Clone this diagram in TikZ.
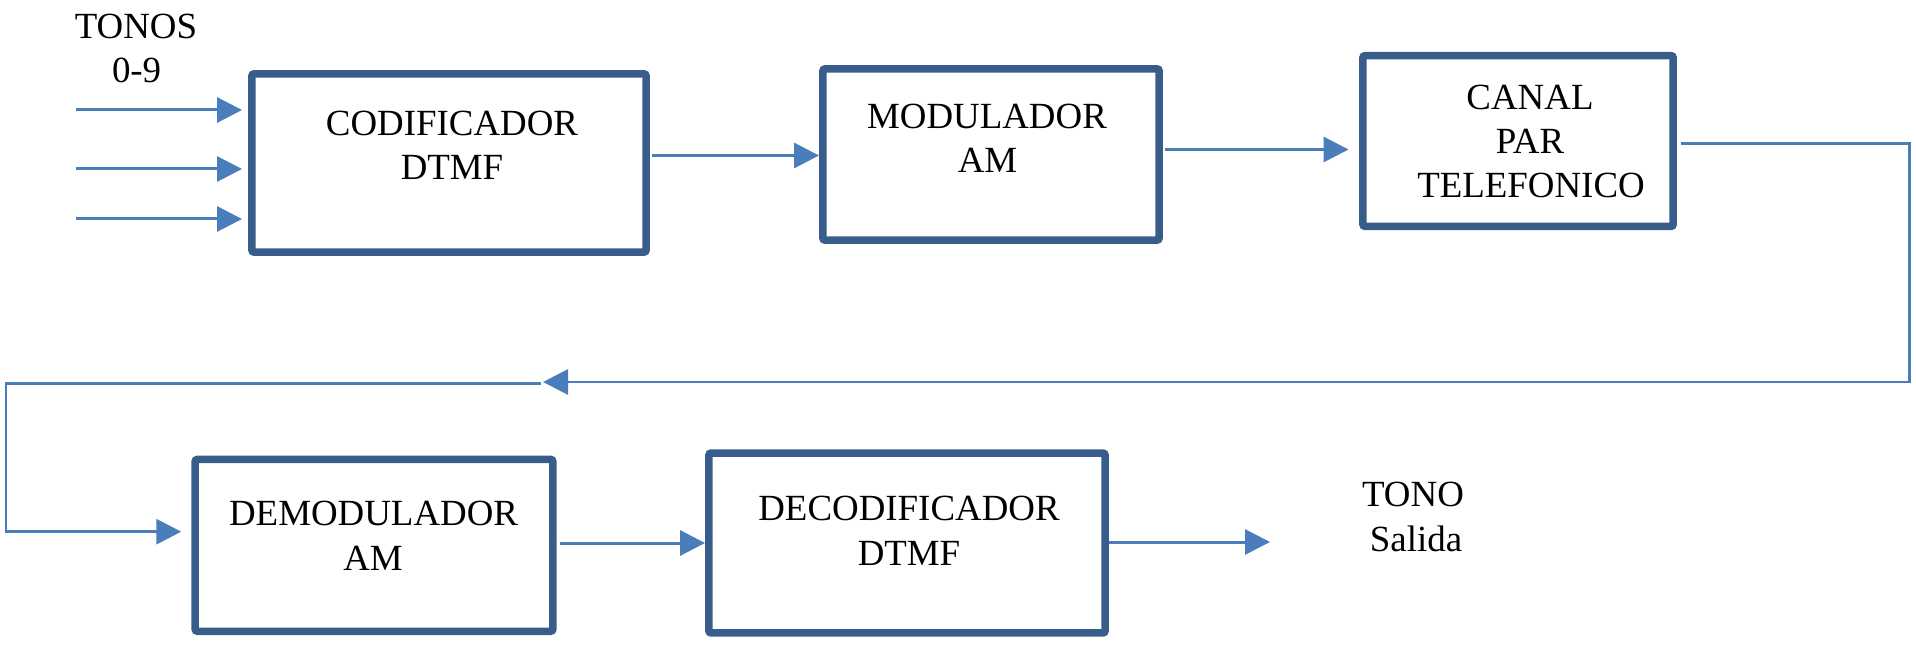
\documentclass[tikz,border=0pt]{standalone}
\usepackage{fontspec}
\setmainfont{Liberation Serif}
\newfontfamily\timesx{Liberation Serif}
\usetikzlibrary{arrows.meta}
\definecolor{boxblue}{RGB}{56,93,138}
\definecolor{lineblue}{RGB}{74,126,187}
\begin{document}
\begin{tikzpicture}[x=0.02cm,y=-0.02cm,
  blockbox/.style={draw=boxblue, line width=0.15cm, rounded corners=0.05cm, inner sep=0pt},
  lbl/.style={anchor=base, inner sep=0pt, font=\timesx\fontsize{21}{25}\selectfont},
  flow/.style={draw=lineblue, line width=0.06cm, -{Triangle[length=0.5cm,width=0.5cm]}},
  wire/.style={draw=lineblue, line width=0.06cm}]
\useasboundingbox (0,0) rectangle (1916,648);

% blocks
\node[blockbox, minimum width=7.89cm, minimum height=3.57cm] (cod) at (449,163) {};
\node[blockbox, minimum width=6.73cm, minimum height=3.43cm] (mod) at (991,154.5) {};
\node[blockbox, minimum width=6.21cm, minimum height=3.42cm] (can) at (1518,141) {};
\node[blockbox, minimum width=7.16cm, minimum height=3.44cm] (dem) at (374,545.3) {};
\node[blockbox, minimum width=7.93cm, minimum height=3.60cm] (dec) at (907,543) {};

% texts
\node[lbl] (tonos) at (136,38.3) {TONOS};
\node[lbl] (cero) at (136.6,82.7) {0-9};
\node[lbl] (codA) at (452,136) {CODIFICADOR};
\node[lbl] (codB) at (452,180) {DTMF};
\node[lbl] (modA) at (987,128.3) {MODULADOR};
\node[lbl] (modB) at (987.5,172.3) {AM};
\node[lbl] (canA) at (1530,110) {CANAL};
\node[lbl] (canB) at (1530,154) {PAR};
\node[lbl] (canC) at (1531,198) {TELEFONICO};
\node[lbl] (demA) at (373.6,525.7) {DEMODULADOR};
\node[lbl] (demB) at (373,570) {AM};
\node[lbl] (decA) at (909,520) {DECODIFICADOR};
\node[lbl] (decB) at (909,565) {DTMF};
\node[lbl] (tono) at (1413,506.7) {TONO};
\node[lbl] (sal) at (1416,551.7) {Salida};

% coordinates
\coordinate (in1) at (76,110);
\coordinate (in2) at (76,169);
\coordinate (in3) at (76,219);
\coordinate (y1) at (0,155.5);
\coordinate (y2) at (0,149.5);
\coordinate (y3) at (0,143.3);
\coordinate (rc1) at (1909,143.3);
\coordinate (rc2) at (1909,382);
\coordinate (mid) at (543,382);
\coordinate (mid2) at (541,383.5);
\coordinate (lc1) at (6,383.5);
\coordinate (lc2) at (6,531.7);
\coordinate (y4) at (0,543);
\coordinate (out) at (1270,542);

% connectors
\draw[flow, shorten >=0.12cm] (in1) -- (in1 -| cod.west);
\draw[flow, shorten >=0.12cm] (in2) -- (in2 -| cod.west);
\draw[flow, shorten >=0.12cm] (in3) -- (in3 -| cod.west);
\draw[flow, shorten <=0.04cm] (cod.east |- y1) -- (mod.west |- y1);
\draw[flow, shorten <=0.04cm, shorten >=0.21cm] (mod.east |- y2) -- (can.west |- y2);
\draw[flow, shorten <=0.08cm] (can.east |- y3) -- (rc1) -- (rc2) -- (mid);
\draw[flow, shorten >=0.2cm] (mid2) -- (lc1) -- (lc2) -- (dem.west |- lc2);
\draw[flow, shorten <=0.06cm] (dem.east |- y4) -- (dec.west |- y4);
\draw[flow] (dec.east |- out) -- (out);
\end{tikzpicture}
\end{document}
